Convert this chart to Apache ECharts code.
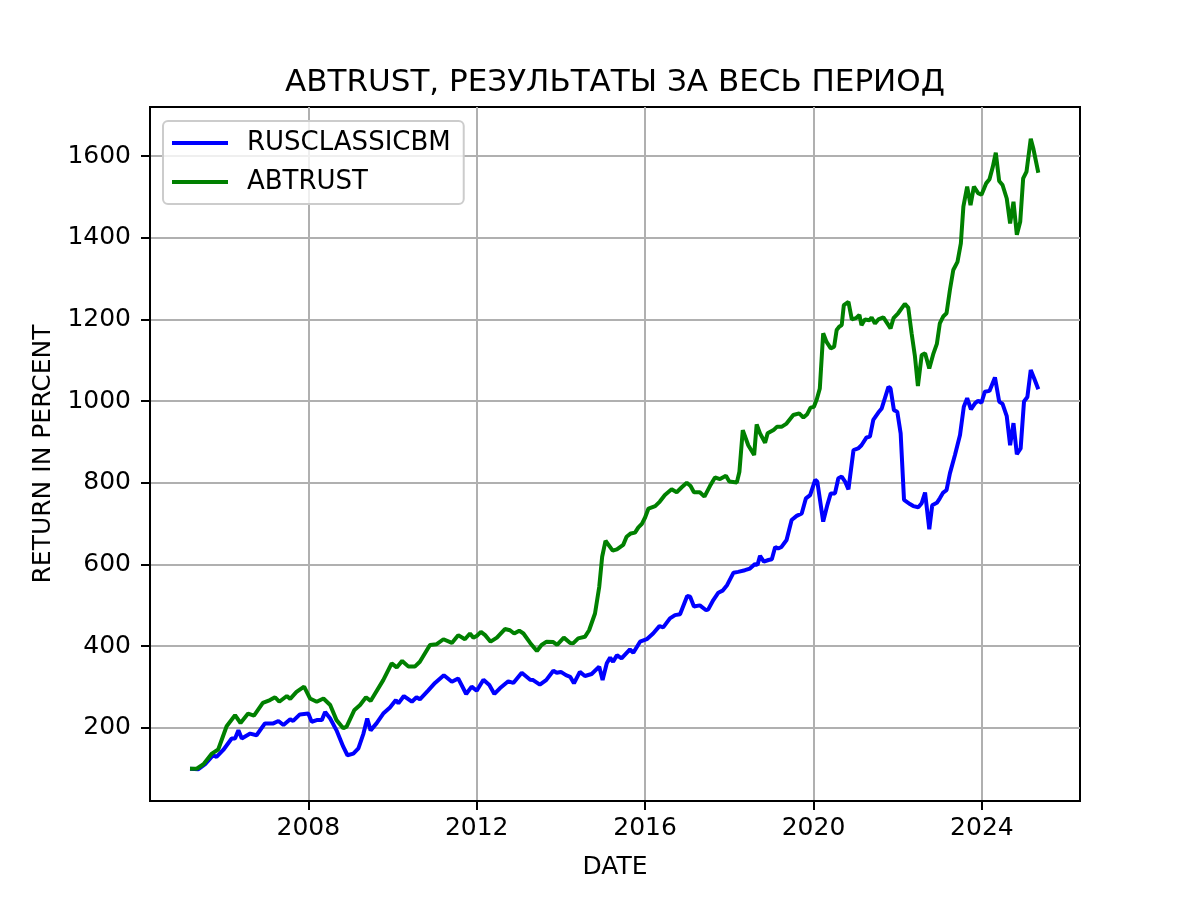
<!DOCTYPE html>
<html>
<head>
<meta charset="utf-8">
<script src="https://cdn.jsdelivr.net/npm/echarts@6/dist/echarts.min.js"></script>
<style>
  html, body { margin: 0; padding: 0; background: #fff; }
  #chart-container { width: 1200px; height: 900px; }
</style>
</head>
<body>
<div id="chart-container"></div>
<script>
// values (decimal years / percent)
var benchYears = [
    2005.19, 2005.39, 2005.55, 2005.74, 2005.82, 2005.98, 2006.18, 2006.26, 2006.34, 2006.42,
    2006.62, 2006.77, 2006.97, 2007.17, 2007.29, 2007.41, 2007.57, 2007.64, 2007.80, 2008.00,
    2008.08, 2008.20, 2008.32, 2008.40, 2008.52, 2008.67, 2008.83, 2008.93, 2009.07, 2009.19,
    2009.31, 2009.40, 2009.48, 2009.62, 2009.78, 2009.94, 2010.08, 2010.14, 2010.27, 2010.46,
    2010.57, 2010.65, 2010.85, 2011.01, 2011.22, 2011.41, 2011.56, 2011.75, 2011.88, 2012.00,
    2012.16, 2012.30, 2012.42, 2012.55, 2012.75, 2012.87, 2013.07, 2013.27, 2013.34, 2013.50,
    2013.65, 2013.82, 2013.90, 2014.00, 2014.12, 2014.22, 2014.31, 2014.45, 2014.57, 2014.73,
    2014.91, 2014.99, 2015.09, 2015.17, 2015.24, 2015.33, 2015.44, 2015.64, 2015.72, 2015.88,
    2016.04, 2016.19, 2016.34, 2016.43, 2016.59, 2016.71, 2016.83, 2017.00, 2017.07, 2017.16,
    2017.30, 2017.45, 2017.50, 2017.62, 2017.74, 2017.84, 2017.95, 2018.10, 2018.21, 2018.37,
    2018.49, 2018.61, 2018.67, 2018.73, 2018.82, 2018.93, 2019.01, 2019.09, 2019.16, 2019.24,
    2019.36, 2019.48, 2019.60, 2019.72, 2019.82, 2019.92, 2020.04, 2020.09, 2020.23, 2020.33,
    2020.41, 2020.51, 2020.59, 2020.67, 2020.75, 2020.83, 2020.95, 2021.06, 2021.14, 2021.26,
    2021.34, 2021.42, 2021.54, 2021.62, 2021.78, 2021.83, 2021.91, 2021.99, 2022.07, 2022.15,
    2022.29, 2022.37, 2022.49, 2022.57, 2022.65, 2022.75, 2022.82, 2022.93, 2023.00, 2023.08,
    2023.16, 2023.24, 2023.36, 2023.48, 2023.57, 2023.65, 2023.74, 2023.84, 2023.91, 2023.99,
    2024.07, 2024.18, 2024.31, 2024.41, 2024.49, 2024.59, 2024.67, 2024.75, 2024.83, 2024.92,
    2025.00, 2025.08, 2025.16, 2025.24, 2025.34
];
var benchValues = [
    100, 99, 111, 133, 129, 146, 174, 174, 194, 174,
    186, 182, 211, 211, 217, 207, 221, 217, 233, 235,
    215, 219, 219, 239, 223, 194, 154, 133, 137, 150,
    186, 223, 194, 211, 235, 250, 268, 260, 278, 264,
    275, 270, 292, 310, 329, 313, 321, 283, 301, 291,
    318, 305, 283, 297, 314, 310, 335, 318, 317, 306,
    317, 340, 335, 337, 329, 325, 309, 337, 327, 332,
    350, 317, 358, 372, 362, 378, 370, 392, 384, 411,
    417, 431, 449, 446, 468, 476, 478, 523, 521, 497,
    500, 488, 490, 513, 531, 536, 550, 580, 582, 586,
    590, 601, 599, 621, 607, 611, 613, 643, 639, 643,
    660, 709, 719, 725, 762, 770, 807, 803, 705, 746,
    774, 774, 811, 815, 803, 784, 880, 884, 892, 911,
    913, 954, 972, 982, 1035, 1031, 978, 974, 921, 758,
    748, 743, 740, 750, 776, 686, 745, 751, 762, 776,
    782, 823, 868, 917, 986, 1007, 980, 995, 1001, 996,
    1023, 1025, 1058, 999, 993, 963, 892, 946, 870, 884,
    999, 1010, 1076, 1056, 1029
];

var fundYears = [
    2005.19, 2005.35, 2005.51, 2005.71, 2005.86, 2006.06, 2006.26, 2006.39, 2006.57, 2006.71,
    2006.92, 2007.09, 2007.21, 2007.31, 2007.49, 2007.57, 2007.72, 2007.90, 2008.04, 2008.20,
    2008.36, 2008.52, 2008.67, 2008.83, 2008.91, 2009.09, 2009.23, 2009.37, 2009.48, 2009.78,
    2009.98, 2010.10, 2010.23, 2010.38, 2010.53, 2010.65, 2010.89, 2011.05, 2011.21, 2011.41,
    2011.56, 2011.72, 2011.84, 2011.92, 2012.00, 2012.10, 2012.20, 2012.33, 2012.48, 2012.67,
    2012.79, 2012.89, 2013.01, 2013.11, 2013.27, 2013.43, 2013.54, 2013.66, 2013.82, 2013.91,
    2014.07, 2014.22, 2014.29, 2014.41, 2014.57, 2014.67, 2014.81, 2014.91, 2014.98, 2015.06,
    2015.23, 2015.33, 2015.48, 2015.56, 2015.66, 2015.76, 2015.84, 2015.92, 2016.00, 2016.08,
    2016.24, 2016.35, 2016.47, 2016.63, 2016.75, 2016.87, 2016.99, 2017.08, 2017.16, 2017.30,
    2017.41, 2017.54, 2017.66, 2017.78, 2017.92, 2018.00, 2018.18, 2018.24, 2018.32, 2018.45,
    2018.59, 2018.65, 2018.73, 2018.85, 2018.91, 2019.05, 2019.13, 2019.24, 2019.36, 2019.52,
    2019.66, 2019.76, 2019.85, 2019.93, 2020.01, 2020.08, 2020.15, 2020.23, 2020.31, 2020.41,
    2020.49, 2020.55, 2020.61, 2020.67, 2020.72, 2020.83, 2020.91, 2021.01, 2021.09, 2021.14,
    2021.22, 2021.33, 2021.38, 2021.46, 2021.54, 2021.66, 2021.78, 2021.83, 2021.90, 2022.01,
    2022.17, 2022.25, 2022.33, 2022.41, 2022.48, 2022.57, 2022.65, 2022.75, 2022.85, 2022.93,
    2023.00, 2023.08, 2023.16, 2023.24, 2023.32, 2023.42, 2023.50, 2023.56, 2023.65, 2023.73,
    2023.81, 2023.91, 2023.99, 2024.10, 2024.18, 2024.26, 2024.33, 2024.41, 2024.49, 2024.59,
    2024.67, 2024.75, 2024.83, 2024.91, 2024.98, 2025.06, 2025.16, 2025.22, 2025.34
];
var fundValues = [
    100, 100, 111, 137, 147, 204, 231, 212, 235, 230,
    261, 268, 275, 264, 278, 271, 288, 301, 272, 264,
    272, 256, 219, 199, 203, 243, 256, 275, 266, 317,
    358, 348, 364, 350, 350, 362, 403, 405, 417, 408,
    427, 417, 431, 421, 425, 435, 427, 411, 421, 442,
    439, 431, 438, 431, 408, 388, 403, 411, 410, 403,
    421, 408, 407, 419, 423, 439, 480, 545, 619, 658,
    634, 637, 648, 668, 676, 678, 691, 699, 715, 737,
    743, 754, 770, 784, 777, 789, 800, 792, 777, 777,
    766, 792, 813, 809, 817, 803, 801, 827, 929, 892,
    868, 943, 921, 898, 921, 929, 937, 937, 945, 966,
    970, 960, 968, 984, 986, 1005, 1031, 1166, 1145, 1129,
    1133, 1174, 1182, 1186, 1235, 1243, 1200, 1203, 1211, 1186,
    1200, 1198, 1205, 1190, 1200, 1205, 1186, 1178, 1203, 1215,
    1238, 1229, 1166, 1109, 1037, 1113, 1117, 1080, 1117, 1140,
    1190, 1207, 1215, 1272, 1321, 1341, 1386, 1476, 1525, 1480,
    1525, 1509, 1505, 1533, 1543, 1574, 1608, 1539, 1529, 1496,
    1435, 1488, 1407, 1439, 1545, 1562, 1642, 1619, 1559
];

var seriesNames = ['RUSCLASSICBM', 'ABTRUST'];
var xTicks = [2008, 2012, 2016, 2020, 2024];
var yTicks = [200, 400, 600, 800, 1000, 1200, 1400, 1600];

function zip(xs, ys) {
    var out = [];
    for (var i = 0; i < xs.length; i++) {
        out.push([xs[i], ys[i]]);
    }
    return out;
}

function plain(v) {
    return String(Math.round(v));
}

var font = 'DejaVu Sans';

var dom = document.getElementById('chart-container');
var myChart = echarts.init(dom, null, {
    renderer: 'canvas'
});

var option = {
    animation: false,
    backgroundColor: '#ffffff',
    title: {
        text: 'ABTRUST, РЕЗУЛЬТАТЫ ЗА ВЕСЬ ПЕРИОД',
        left: 615,
        top: 67,
        padding: 0,
        textAlign: 'center',
        textStyle: {
            fontFamily: font,
            fontSize: 31,
            fontWeight: 'normal',
            color: '#000'
        }
    },
    legend: {
        orient: 'vertical',
        left: 163,
        top: 121,
        padding: [9, 13, 9, 9],
        itemGap: 13,
        itemWidth: 56,
        itemHeight: 4,
        icon: 'rect',
        backgroundColor: 'rgba(255,255,255,0.8)',
        borderColor: '#cccccc',
        borderWidth: 2,
        borderRadius: 5,
        textStyle: {
            fontFamily: font,
            fontSize: 26,
            lineHeight: 26,
            color: '#000',
            padding: [0, 0, 0, 14]
        },
        data: seriesNames
    },
    grid: {
        left: 150,
        right: 120,
        top: 107,
        bottom: 99,
        show: true,
        borderColor: '#000',
        borderWidth: 2,
        backgroundColor: 'transparent'
    },
    xAxis: {
        type: 'value',
        min: 2004.24,
        max: 2026.33,
        name: 'DATE',
        nameLocation: 'middle',
        nameGap: 54,
        nameTextStyle: { fontFamily: font, fontSize: 25, color: '#000' },
        axisLine: { show: true, onZero: false, lineStyle: { color: '#000', width: 2 } },
        axisTick: {
            show: true,
            inside: false,
            length: 9,
            customValues: xTicks,
            lineStyle: { color: '#000', width: 2 }
        },
        axisLabel: {
            fontFamily: font,
            fontSize: 25,
            color: '#000',
            margin: 15,
            customValues: xTicks,
            formatter: plain
        },
        splitLine: { show: true, lineStyle: { color: '#b0b0b0', width: 2 } }
    },
    yAxis: {
        type: 'value',
        min: 21,
        max: 1720,
        name: 'RETURN IN PERCENT',
        nameLocation: 'middle',
        nameGap: 93,
        nameTextStyle: { fontFamily: font, fontSize: 25, color: '#000' },
        axisLine: { show: true, onZero: false, lineStyle: { color: '#000', width: 2 } },
        axisTick: {
            show: true,
            inside: false,
            length: 9,
            customValues: yTicks,
            lineStyle: { color: '#000', width: 2 }
        },
        axisLabel: {
            fontFamily: font,
            fontSize: 25,
            color: '#000',
            margin: 19,
            customValues: yTicks,
            formatter: plain
        },
        splitLine: { show: true, lineStyle: { color: '#b0b0b0', width: 2 } }
    },
    series: [
        {
            name: seriesNames[0],
            type: 'line',
            data: zip(benchYears, benchValues),
            showSymbol: false,
            symbol: 'none',
            color: '#0000ff',
            lineStyle: { color: '#0000ff', width: 4 },
            z: 3
        },
        {
            name: seriesNames[1],
            type: 'line',
            data: zip(fundYears, fundValues),
            showSymbol: false,
            symbol: 'none',
            color: '#008000',
            lineStyle: { color: '#008000', width: 4 },
            z: 4
        }
    ]
};

myChart.setOption(option);

window.addEventListener('resize', myChart.resize);
</script>
</body>
</html>
